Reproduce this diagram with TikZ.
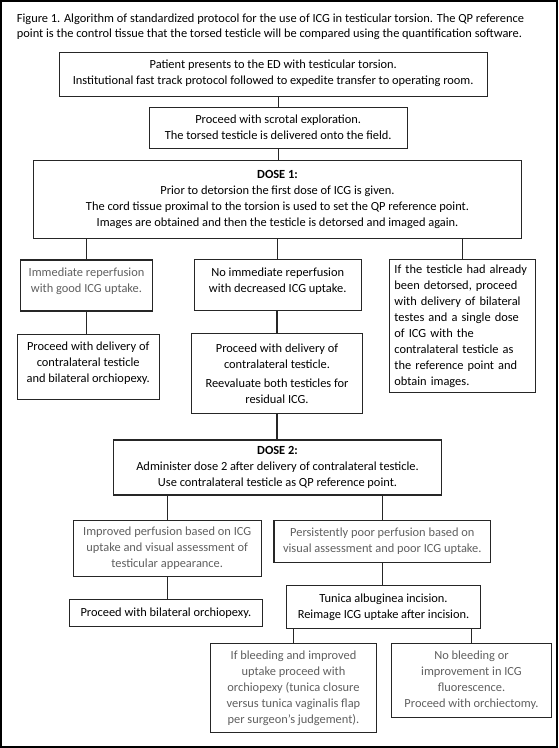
\documentclass[tikz,border=0pt]{standalone}
\usepackage{fontspec}
\setmainfont{Carlito}
\definecolor{txtgray}{HTML}{5F5F5F}
\definecolor{edge}{HTML}{262626}
\tikzset{
  box/.style={draw=edge, line width=1.1pt, rectangle, align=center, inner sep=2pt, outer sep=0pt,
    font=\fontsize{12.4}{16}\selectfont, text=black},
  graybox/.style={box, text=txtgray},
  conn/.style={draw=edge, line width=1.1pt},
}
\begin{document}
\begin{tikzpicture}[x=1pt,y=-1pt]
\useasboundingbox (0,0) rectangle (558,748);
\draw[line width=2.2pt, black] (1.1,1.1) rectangle (556.9,746.9);

\node[anchor=west, align=left, inner sep=0pt, font=\fontsize{12.4}{15}\selectfont] (title) at (16.7,26.8)
  {Figure 1. Algorithm of standardized protocol for the use of ICG in testicular torsion. The QP reference\\
   point is the control tissue that the torsed testicle will be compared using the quantification software.};

\node[box, minimum width=428.3pt, minimum height=44pt] (b1) at (273.2,74.3)
  {Patient presents to the ED with testicular torsion.\\
   Institutional fast track protocol followed to expedite transfer to operating room.\\[-12pt]};
\node[box, minimum width=258.3pt, minimum height=40.7pt] (b2) at (278.2,127.7)
  {Proceed with scrotal exploration.\\
   The torsed testicle is delivered onto the field.};
\node[box, minimum width=488.4pt, minimum height=78.3pt] (d1) at (277.5,199.2)
  {\textbf{DOSE 1:}\\
   Prior to detorsion the first dose of ICG is given.\\
   The cord tissue proximal to the torsion is used to set the QP reference point.\\
   Images are obtained and then the testicle is detorsed and imaged again.};

\node[graybox, minimum width=131.6pt, minimum height=51pt] (l1) at (86.5,285.5)
  {Immediate reperfusion\\ with good ICG uptake.\\[-5pt]};
\node[box, minimum width=141.7pt, minimum height=64.7pt] (l2) at (88.2,366.7)
  {Proceed with delivery of\\ contralateral testicle\\ and bilateral orchiopexy.\\[-7pt]};
\node[box, minimum width=167.3pt, minimum height=50.7pt] (m1) at (277.7,284.7)
  {No immediate reperfusion\\ with decreased ICG uptake.\\[-6.6pt]};
\node[box, minimum width=171.4pt, minimum height=80pt] (m2) at (277,373.3)
  {Proceed with delivery of\\ contralateral testicle.\\[3pt]
   Reevaluate both testicles for\\ residual ICG.};
\node[box, minimum width=146.7pt, minimum height=133.4pt, text width=136pt, align=left, inner xsep=5.35pt] (r) at (462.4,326)
  {If the testicle had already\\ been detorsed, proceed\\ with delivery of bilateral\\ testes and a single dose\\
   of ICG with the\\ contralateral testicle as\\ the reference point and\\ obtain images.};

\node[box, minimum width=328.4pt, minimum height=55pt] (d2) at (277.5,467.5)
  {\textbf{DOSE 2:}\\
   Administer dose 2 after delivery of contralateral testicle.\\
   Use contralateral testicle as QP reference point.};

\node[graybox, minimum width=187.7pt, minimum height=55.6pt] (imp) at (167.2,548.5)
  {Improved perfusion based on ICG\\ uptake and visual assessment of\\ testicular appearance.};
\node[graybox, minimum width=216.7pt, minimum height=41.3pt] (per) at (382.3,541.4)
  {Persistently poor perfusion based on\\ visual assessment and poor ICG uptake.};
\node[box, minimum width=193.7pt, minimum height=27.3pt] (pb) at (165.9,612.7)
  {Proceed with bilateral orchiopexy.};
\node[box, minimum width=194.4pt, minimum height=42.3pt] (tun) at (383.5,606.9)
  {Tunica albuginea incision.\\ Reimage ICG uptake after incision.};
\node[graybox, minimum width=165.6pt, minimum height=88.6pt] (bl) at (293.5,688)
  {If bleeding and improved\\ uptake proceed with\\ orchiopexy (tunica closure\\ versus tunica vaginalis flap\\ per surgeon’s judgement).};
\node[graybox, minimum width=159.6pt, minimum height=73.6pt] (nb) at (471.5,680.5)
  {No bleeding or\\ improvement in ICG\\ fluorescence.\\ Proceed with orchiectomy.};

\draw[conn] (b1.south -| b2.north) -- (b2.north);
\draw[conn] (b2.south) -- (b2.south |- d1.north);
\draw[conn] (d1.south -| l1.north) -- (l1.north);
\draw[conn] (d1.south -| m1.north) -- (m1.north);
\draw[conn] (d1.south -| r.north) -- (r.north);
\draw[conn] (l1.south) -- (l1.south |- l2.north);
\draw[conn] (m1.south -| m2.north) -- (m2.north);
\draw[conn] (m2.south) -- (m2.south |- d2.north);
\draw[conn] (d2.south -| imp.north) -- (imp.north);
\draw[conn] (d2.south -| per.north) -- (per.north);
\draw[conn] (imp.south) -- (imp.south |- pb.north);
\draw[conn] (per.south) -- (per.south |- tun.north);
\draw[conn] (tun.south -| bl.north) -- (bl.north);
\draw[conn] (tun.south -| nb.north) -- (nb.north);
\end{tikzpicture}
\end{document}
